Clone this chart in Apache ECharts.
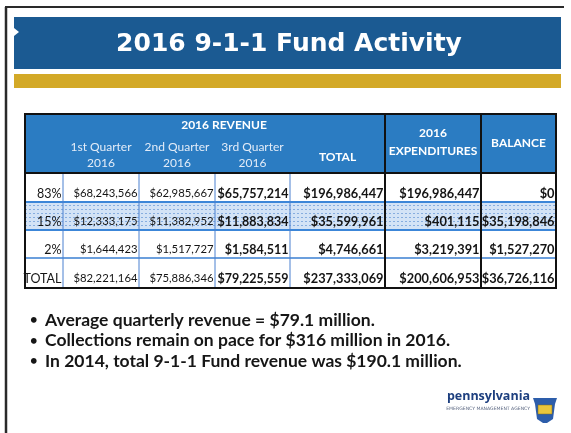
<!DOCTYPE html>
<html><head><meta charset="utf-8">
<script src="https://cdn.jsdelivr.net/npm/echarts@6/dist/echarts.min.js"></script>
<style>html,body{margin:0;padding:0;background:#fff}#c{width:571px;height:433px}</style>
</head><body><div id="c"></div>
<script>
// ---------- data ----------
const titleText = '2016 9-1-1 Fund Activity';
const groupHeader = '2016 REVENUE';
const columnHeaders = ['1st Quarter\n2016', '2nd Quarter\n2016', '3rd Quarter\n2016', 'TOTAL', '2016\nEXPENDITURES', 'BALANCE'];
const rowLabels = ['83%', '15%', '2%', 'TOTAL'];
const q1 = [68243566, 12333175, 1644423, 82221164];
const q2 = [62985667, 11382952, 1517727, 75886346];
const q3 = [65757214, 11883834, 1584511, 79225559];
const totals = [196986447, 35599961, 4746661, 237333069];
const expenditures = [196986447, 401115, 3219391, 200606953];
const balance = [0, 35198846, 1527270, 36726116];
const bullets = [
  'Average quarterly revenue = $79.1 million.',
  'Collections remain on pace for $316 million in 2016.',
  'In 2014, total 9-1-1 Fund revenue was $190.1 million.'
];
const logoName = 'pennsylvania';
const logoSub = 'EMERGENCY MANAGEMENT AGENCY';

// ---------- layout ----------
const colEdges = [0, 38, 114, 190, 265, 360, 456, 531];
const rowEdges = [0, 59, 88, 116, 144, 174];
const TABLE = {left: 25, top: 114, width: 531, height: 174};

const fmt = v => '$' + v.toLocaleString('en-US');
const columns = [rowLabels, q1, q2, q3, totals, expenditures, balance];
const cells = [];
for (let r = 0; r < rowLabels.length; r++) {
  for (let c = 0; c < columns.length; c++) {
    const v = columns[c][r];
    cells.push({c, r, text: c === 0 ? v : fmt(v)});
  }
}
const colFont = [
  {w: 'normal', s: 12.5}, {w: 'normal', s: 11.3}, {w: 'normal', s: 11.3},
  {w: 'bold', s: 12.5}, {w: 'bold', s: 12.8}, {w: 'bold', s: 12.8}, {w: 'bold', s: 12.8}
];

const chart = echarts.init(document.getElementById('c'), null, {renderer: 'canvas'});

function frameRender(params, api) {
  const X = x => api.coord([x, 0])[0];
  const Y = y => api.coord([0, y])[1];
  const L = X(0), R = X(531), T = Y(0), B = Y(174);
  const ch = [];
  ch.push({type: 'rect', shape: {x: L, y: T, width: R - L, height: Y(rowEdges[1]) - T}, style: {fill: '#2b7cc2'}});
  const b0 = Y(rowEdges[2]), b1 = Y(rowEdges[3]);
  ch.push({type: 'rect', shape: {x: L, y: b0, width: R - L, height: b1 - b0}, style: {fill: '#d3e3f6'}});
  for (let yy = b0 + 3.5; yy < b1 - 1; yy += 4) {
    ch.push({type: 'line', shape: {x1: L, y1: yy, x2: R, y2: yy}, style: {stroke: '#86addf', lineWidth: 1, lineDash: [2, 2]}});
  }
  [rowEdges[2], rowEdges[3]].forEach(e => ch.push({type: 'line', shape: {x1: L, y1: Y(e), x2: R, y2: Y(e)}, style: {stroke: '#3c86d8', lineWidth: 2}}));
  ch.push({type: 'line', shape: {x1: L, y1: Y(rowEdges[4]), x2: R, y2: Y(rowEdges[4])}, style: {stroke: '#3a7fd2', lineWidth: 1.5}});
  for (let i = 1; i <= 4; i++) {
    ch.push({type: 'line', shape: {x1: X(colEdges[i]), y1: Y(rowEdges[1]), x2: X(colEdges[i]), y2: B}, style: {stroke: '#4a80d0', lineWidth: 1}});
  }
  [5, 6].forEach(i => ch.push({type: 'line', shape: {x1: X(colEdges[i]), y1: T, x2: X(colEdges[i]), y2: B}, style: {stroke: '#111', lineWidth: 2}}));
  ch.push({type: 'line', shape: {x1: L, y1: Y(rowEdges[1]), x2: R, y2: Y(rowEdges[1])}, style: {stroke: '#111', lineWidth: 2}});
  ch.push({type: 'rect', shape: {x: L, y: T, width: R - L, height: B - T}, style: {fill: null, stroke: '#111', lineWidth: 2}});
  return {type: 'group', children: ch};
}

function cellRender(params, api) {
  const cell = cells[params.dataIndex];
  const right = api.coord([colEdges[cell.c + 1], 0])[0];
  const bottom = api.coord([0, rowEdges[cell.r + 2]])[1];
  const f = colFont[cell.c];
  return {
    type: 'text',
    style: {
      text: cell.text, x: right - 1.5, y: bottom - (cell.r === 3 ? 9.5 : 8.5),
      align: 'right', verticalAlign: 'middle',
      font: f.w + ' ' + f.s + 'px Lato', fill: '#141414'
    }
  };
}

const headerItems = [{text: groupHeader, c0: 1, c1: 5, y: 11, bold: true, lh: 16}];
columnHeaders.forEach((h, i) => {
  const c = i + 1;
  const ys = [41, 41, 41, 43, 28, 29];
  headerItems.push({text: h, c0: c, c1: c + 1, y: ys[i], bold: c >= 4, lh: c === 5 ? 18 : 16});
});

function headerRender(params, api) {
  const h = headerItems[params.dataIndex];
  const x = (api.coord([colEdges[h.c0], 0])[0] + api.coord([colEdges[h.c1], 0])[0]) / 2;
  const y = api.coord([0, h.y])[1];
  return {
    type: 'text',
    style: {
      text: h.text, x, y, align: 'center', verticalAlign: 'middle', lineHeight: h.lh,
      font: (h.bold ? 'bold ' : 'normal ') + '12px Lato', fill: h.bold ? '#ffffff' : '#e3ecf8'
    }
  };
}

const graphics = [
  {type: 'line', shape: {x1: 5, y1: 7, x2: 564, y2: 7}, style: {stroke: '#2a2a2a', lineWidth: 2}},
  {type: 'line', shape: {x1: 6, y1: 7, x2: 6, y2: 433}, style: {stroke: '#2a2a2a', lineWidth: 2.5}},
  {type: 'rect', shape: {x: 14, y: 17, width: 547, height: 52}, style: {fill: '#1b5a92'}},
  {type: 'polygon', shape: {points: [[14, 28], [19, 32], [14, 36]]}, style: {fill: '#ffffff'}},
  {type: 'rect', shape: {x: 14, y: 74, width: 547, height: 14}, style: {fill: '#d3a927'}},
  {type: 'text', style: {text: titleText, x: 289, y: 44, align: 'center', verticalAlign: 'middle', font: 'bold 25px "DejaVu Sans"', fill: '#ffffff'}}
];
bullets.forEach((b, i) => {
  const y = 320 + i * 20.5;
  graphics.push({type: 'text', style: {text: '•', x: 30, y, verticalAlign: 'middle', font: 'bold 13px Lato', fill: '#161616'}});
  graphics.push({type: 'text', style: {text: b, x: 45, y, verticalAlign: 'middle', font: 'bold 17.5px Lato', fill: '#161616'}});
});
// logo
graphics.push({type: 'text', style: {text: logoName, x: 530, y: 396, align: 'right', verticalAlign: 'middle', font: 'bold 12.5px "Open Sans"', fill: '#1d3f7f'}});
graphics.push({type: 'text', style: {text: logoSub, x: 530, y: 409, align: 'right', verticalAlign: 'middle', font: 'normal 4.6px "DejaVu Sans"', fill: '#5a6680'}});
graphics.push({type: 'polygon', shape: {points: [[533, 398], [557, 398], [555, 404], [553, 419], [547, 423], [543, 423], [537, 419], [535, 404]]}, style: {fill: '#2d5daa'}});
graphics.push({type: 'rect', shape: {x: 538, y: 405, width: 14, height: 9}, style: {fill: '#e9c53c', stroke: '#8a6d14', lineWidth: 0.5}});

chart.setOption({
  animation: false,
  backgroundColor: '#ffffff',
  grid: {left: TABLE.left, top: TABLE.top, width: TABLE.width, height: TABLE.height, containLabel: false},
  xAxis: {type: 'value', min: 0, max: 531, show: false},
  yAxis: {type: 'value', min: 0, max: 174, inverse: true, show: false},
  graphic: graphics,
  series: [
    {type: 'custom', name: 'frame', coordinateSystem: 'cartesian2d', data: [[0, 0]], renderItem: frameRender, z: 1, silent: true, clip: false},
    {type: 'custom', name: 'header', coordinateSystem: 'cartesian2d', data: headerItems.map((h, i) => [i, 0]), renderItem: headerRender, z: 3, silent: true, clip: false},
    {type: 'custom', name: 'cells', coordinateSystem: 'cartesian2d', data: cells.map(c => [c.c, c.r]), renderItem: cellRender, z: 3, silent: true, clip: false}
  ]
});
</script>
</body></html>
